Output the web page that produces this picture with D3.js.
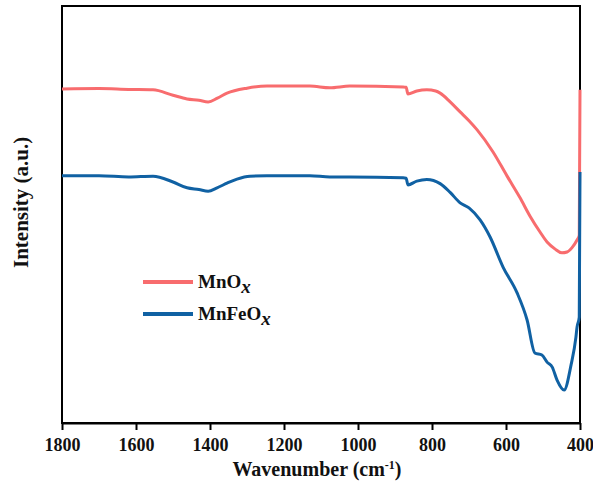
<!DOCTYPE html>
<html>
<head>
<meta charset="utf-8">
<script src="https://cdn.jsdelivr.net/npm/d3@7"></script>
<style>
  body { margin: 0; background: #fff; }
  text { font-family: "Times New Roman", "Liberation Serif", serif; font-weight: bold; }
</style>
</head>
<body>
<svg id="chart" width="593" height="497"></svg>
<script>
// wavenumber (cm-1) and intensity (a.u.)
const mnoxWave = [1800, 1700, 1620, 1554, 1500, 1462, 1430, 1405, 1380, 1354, 1300, 1246, 1130, 1076, 1022, 878, 870, 865, 841, 814, 790, 778, 751, 724, 700, 678, 635, 597, 562, 535, 508, 489, 467, 449, 435, 422, 408, 402, 400];
const mnoxVals = [80.1, 80.2, 80.0, 79.9, 78.6, 77.7, 77.4, 77.0, 77.9, 79.1, 80.3, 80.8, 80.8, 80.4, 80.8, 80.6, 80.5, 78.9, 79.6, 79.9, 79.6, 79.1, 77.0, 74.6, 72.5, 70.3, 65.0, 59.2, 54.0, 49.6, 45.8, 43.4, 41.7, 40.8, 41.0, 42.0, 43.9, 45.0, 79.9];

const mnfeoxWave = [1800, 1700, 1620, 1554, 1500, 1462, 1430, 1405, 1381, 1354, 1327, 1292, 1246, 1130, 1076, 1022, 878, 870, 865, 841, 814, 778, 751, 724, 700, 670, 643, 608, 570, 543, 522, 503, 489, 475, 462, 443, 424, 411, 408, 402, 400];
const mnfeoxVals = [59.3, 59.3, 59.0, 59.2, 57.8, 56.4, 56.0, 55.6, 56.4, 57.5, 58.5, 59.2, 59.3, 59.3, 59.0, 59.0, 58.8, 58.7, 57.1, 58.0, 58.4, 57.4, 55.3, 52.8, 51.6, 48.7, 44.6, 37.4, 31.2, 24.7, 16.8, 16.3, 14.6, 13.4, 10.3, 7.9, 14.0, 20.6, 23.0, 25.4, 60.2];

const xTicks = [1800, 1600, 1400, 1200, 1000, 800, 600, 400];
const seriesNames = ["MnO", "MnFeO"];
const seriesColors = ["#f86c6e", "#1061a3"];

const margin = {top: 6, right: 13, bottom: 74, left: 62};
const width = 593 - margin.left - margin.right;
const height = 497 - margin.top - margin.bottom;

const svg = d3.select("#chart");
const g = svg.append("g").attr("transform", "translate(" + margin.left + "," + margin.top + ")");

const x = d3.scaleLinear().domain([1800, 400]).range([0, width]);
const y = d3.scaleLinear().domain([0, 100]).range([height, 0]);

// frame
g.append("rect")
  .attr("width", width).attr("height", height)
  .attr("fill", "none").attr("stroke", "#000").attr("stroke-width", 2);

const xAxis = g.append("g")
  .attr("transform", "translate(0," + height + ")")
  .call(d3.axisBottom(x).tickValues(xTicks).tickFormat(d3.format("d"))
    .tickSize(7).tickSizeOuter(0).tickPadding(8));
xAxis.select(".domain").attr("stroke-width", 2);
xAxis.selectAll(".tick line").attr("stroke-width", 2);
xAxis.selectAll(".tick text")
  .attr("font-size", 18)
  .attr("fill", "#111")
  .style("font-family", '"Times New Roman", "Liberation Serif", serif')
  .style("font-weight", "bold");

const line = d3.line()
  .x(d => x(d[0]))
  .y(d => y(d[1]))
  .curve(d3.curveMonotoneX);

const series = [
  d3.zip(mnoxWave, mnoxVals),
  d3.zip(mnfeoxWave, mnfeoxVals)
];

g.selectAll(".spec")
  .data(series)
  .enter().append("path")
    .attr("class", "spec")
    .attr("d", line)
    .attr("fill", "none")
    .attr("stroke", (d, i) => seriesColors[i])
    .attr("stroke-width", 3)
    .attr("stroke-linejoin", "round");

// legend
const legend = g.selectAll(".legend")
  .data(seriesNames)
  .enter().append("g")
    .attr("class", "legend")
    .attr("transform", (d, i) => "translate(81," + (276 + i * 32) + ")");

legend.append("line")
  .attr("x1", 0).attr("x2", 50)
  .attr("stroke", (d, i) => seriesColors[i])
  .attr("stroke-width", 4);

const lt = legend.append("text")
  .attr("x", 55).attr("y", 6)
  .attr("font-size", 19)
  .attr("fill", "#111");
lt.append("tspan").text(d => d);
lt.append("tspan").attr("dy", 5).attr("font-style", "italic").text("x");

// axis titles
const xt = svg.append("text")
  .attr("x", margin.left + width / 2 - 4)
  .attr("y", 476)
  .attr("text-anchor", "middle")
  .attr("font-size", 20)
  .attr("fill", "#111");
xt.append("tspan").text("Wavenumber (cm");
xt.append("tspan").attr("dy", -7).attr("font-size", 12).text("-1");
xt.append("tspan").attr("dy", 7).text(")");

svg.append("text")
  .attr("transform", "translate(28,268) rotate(-90)")
  .attr("text-anchor", "start")
  .attr("font-size", 21)
  .attr("fill", "#111")
  .text("Intensity (a.u.)");
</script>
</body>
</html>
